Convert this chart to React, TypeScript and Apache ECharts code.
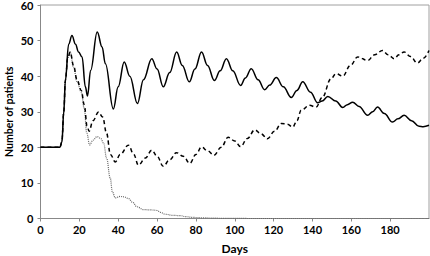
import React, { useEffect, useRef } from "react";
import * as echarts from "echarts";

const solidDays = [0, 10, 11, 12, 12.8, 14.5, 16.2, 18, 19.6, 21.4, 23.1, 24.2, 25.8, 29.2, 31.7, 33.4, 37.5, 40, 43.1, 46, 49.9, 53, 57.3, 60, 63.2, 66.5, 70.1, 73, 76.6, 79.5, 82.9, 86, 89.5, 92.5, 95.7, 99, 103, 105.5, 108.5, 112, 115.4, 118, 121.4, 125, 129.1, 132, 135, 139, 142.7, 145, 147.9, 152, 155.6, 158, 160.7, 164, 168.4, 171, 173.5, 177, 181.2, 184, 187.2, 191, 194.9, 197, 200];
const solidVals = [20, 20, 21.5, 30, 38.8, 49, 51.4, 49, 46.8, 45.4, 37, 34.4, 41.6, 52.4, 48.2, 43.5, 30.8, 37, 44, 40, 32.3, 39, 44.9, 42, 37, 41, 46.8, 43, 38.4, 42, 46.8, 43, 38.8, 41.5, 44.9, 41.5, 37.4, 39.5, 42.1, 39, 36.2, 37.5, 39.6, 37, 34, 36, 38.4, 35.5, 32.5, 33, 34.3, 33, 31.2, 32, 32.7, 31.5, 29, 30, 31.3, 29.5, 27.1, 28, 29, 27.5, 25.9, 25.8, 26.2];

const dashedDays = [0, 10, 11, 12, 12.8, 14, 15.3, 17, 18.8, 21, 22.5, 24, 25, 27, 29.9, 32, 34, 36, 38.5, 41, 45.3, 48, 50.4, 54, 57.3, 60, 63.2, 66.5, 70, 73.5, 76.9, 80, 82.9, 86, 89.3, 93, 96.6, 100, 103, 106.5, 110.3, 113.5, 116.8, 120.5, 124, 127, 129.9, 132, 134.2, 138.5, 141.9, 145, 149.6, 152.1, 155.6, 159.5, 163.3, 168.4, 172, 176.1, 179, 182.1, 184.5, 187.2, 190.5, 194, 197, 200];
const dashedVals = [20, 20, 21.5, 30, 38.8, 45, 46.8, 43, 39, 36, 32, 26, 24.5, 27.5, 29.9, 28.5, 24, 18, 15.9, 18, 20.6, 18, 15, 17, 19.2, 17.5, 14.7, 16.5, 18.5, 17.5, 15.5, 18, 20.1, 19, 17.8, 20, 22.8, 21.8, 20.2, 22.5, 24.9, 23.8, 22.4, 24.5, 26.7, 26.5, 25.7, 27.5, 30.4, 31.8, 31.3, 34, 39.3, 40.7, 40, 43, 45.4, 44.4, 46, 47.2, 46, 44.9, 46, 46.8, 45.5, 43.7, 45, 47.2];

const dottedDays = [0, 10, 11, 12, 12.8, 14, 15.3, 17, 18.8, 21, 22.5, 23.8, 25.3, 27, 29.1, 31, 32.5, 34, 35.9, 37, 38.5, 41, 43, 45.3, 47.5, 49.6, 53, 57, 59.8, 62, 64.1, 68, 72, 75, 78.6, 85, 95, 110, 200];
const dottedVals = [20, 20, 21.5, 30, 38.8, 45, 46.8, 42.5, 38.5, 35.5, 31, 24, 20.7, 22, 23, 22.5, 21.2, 17, 11.4, 7.5, 5.8, 6.2, 6.1, 5.6, 4.5, 3.3, 2.5, 2.4, 2.3, 1.7, 1.2, 0.9, 0.8, 0.5, 0.3, 0.15, 0.05, 0, 0];

const xTicks = { min: 0, max: 200, interval: 20 };
const yTicks = { min: 0, max: 60, interval: 10 };

const zip = (d: number[], v: number[]) => d.map((x, i) => [x, v[i]]);

const FONT = "Lato, 'Liberation Sans', sans-serif";

export default function App() {
  const ref = useRef<HTMLDivElement>(null);
  useEffect(() => {
    document.body.style.margin = "0";
    const chart = echarts.init(ref.current!, null, { renderer: "svg" });
    chart.setOption({
      animation: false,
      grid: {
        left: 40.5,
        right: 1,
        top: 5,
        bottom: 37.5,
        outerBoundsMode: "none",
        containLabel: false,
        show: true,
        borderColor: "#a0a0a0",
        borderWidth: 1,
      },
      xAxis: {
        type: "value",
        min: xTicks.min,
        max: xTicks.max,
        interval: xTicks.interval,
        name: "Days",
        nameLocation: "middle",
        nameGap: 24,
        nameMoveOverlap: false,
        nameTextStyle: { fontFamily: FONT, fontWeight: "bold", fontSize: 12, color: "#000" },
        axisLine: { lineStyle: { color: "#888", width: 1 } },
        axisTick: { length: 3, lineStyle: { color: "#888" } },
        axisLabel: { showMaxLabel: false, margin: 5, fontFamily: FONT, fontWeight: "bold", fontSize: 11, color: "#000" },
        splitLine: { show: false },
      },
      yAxis: {
        type: "value",
        min: yTicks.min,
        max: yTicks.max,
        interval: yTicks.interval,
        name: "Number of patients",
        nameLocation: "middle",
        nameGap: 26,
        nameMoveOverlap: false,
        nameTextStyle: { fontFamily: FONT, fontWeight: "bold", fontSize: 10.5, lineHeight: 11, color: "#000" },
        axisLine: { show: true, lineStyle: { color: "#888", width: 1 } },
        axisTick: { show: true, length: 3, lineStyle: { color: "#888" } },
        axisLabel: { margin: 7, fontFamily: FONT, fontWeight: "bold", fontSize: 11, lineHeight: 9, color: "#000" },
        splitLine: { show: false },
      },
      series: [
        {
          type: "line",
          data: zip(dottedDays, dottedVals),
          smooth: 0.4,
          smoothMonotone: "x",
          showSymbol: false,
          lineStyle: { color: "#666", width: 1.2, type: [1, 1] },
        },
        {
          type: "line",
          data: zip(dashedDays, dashedVals),
          smooth: 0.4,
          smoothMonotone: "x",
          showSymbol: false,
          lineStyle: { color: "#000", width: 1.5, type: [4, 3] },
        },
        {
          type: "line",
          data: zip(solidDays, solidVals),
          smooth: 0.4,
          smoothMonotone: "x",
          showSymbol: false,
          lineStyle: { color: "#000", width: 1.5, type: "solid" },
        },
      ],
    });
    return () => chart.dispose();
  }, []);
  return <div ref={ref} style={{ width: 430, height: 256 }} />;
}
